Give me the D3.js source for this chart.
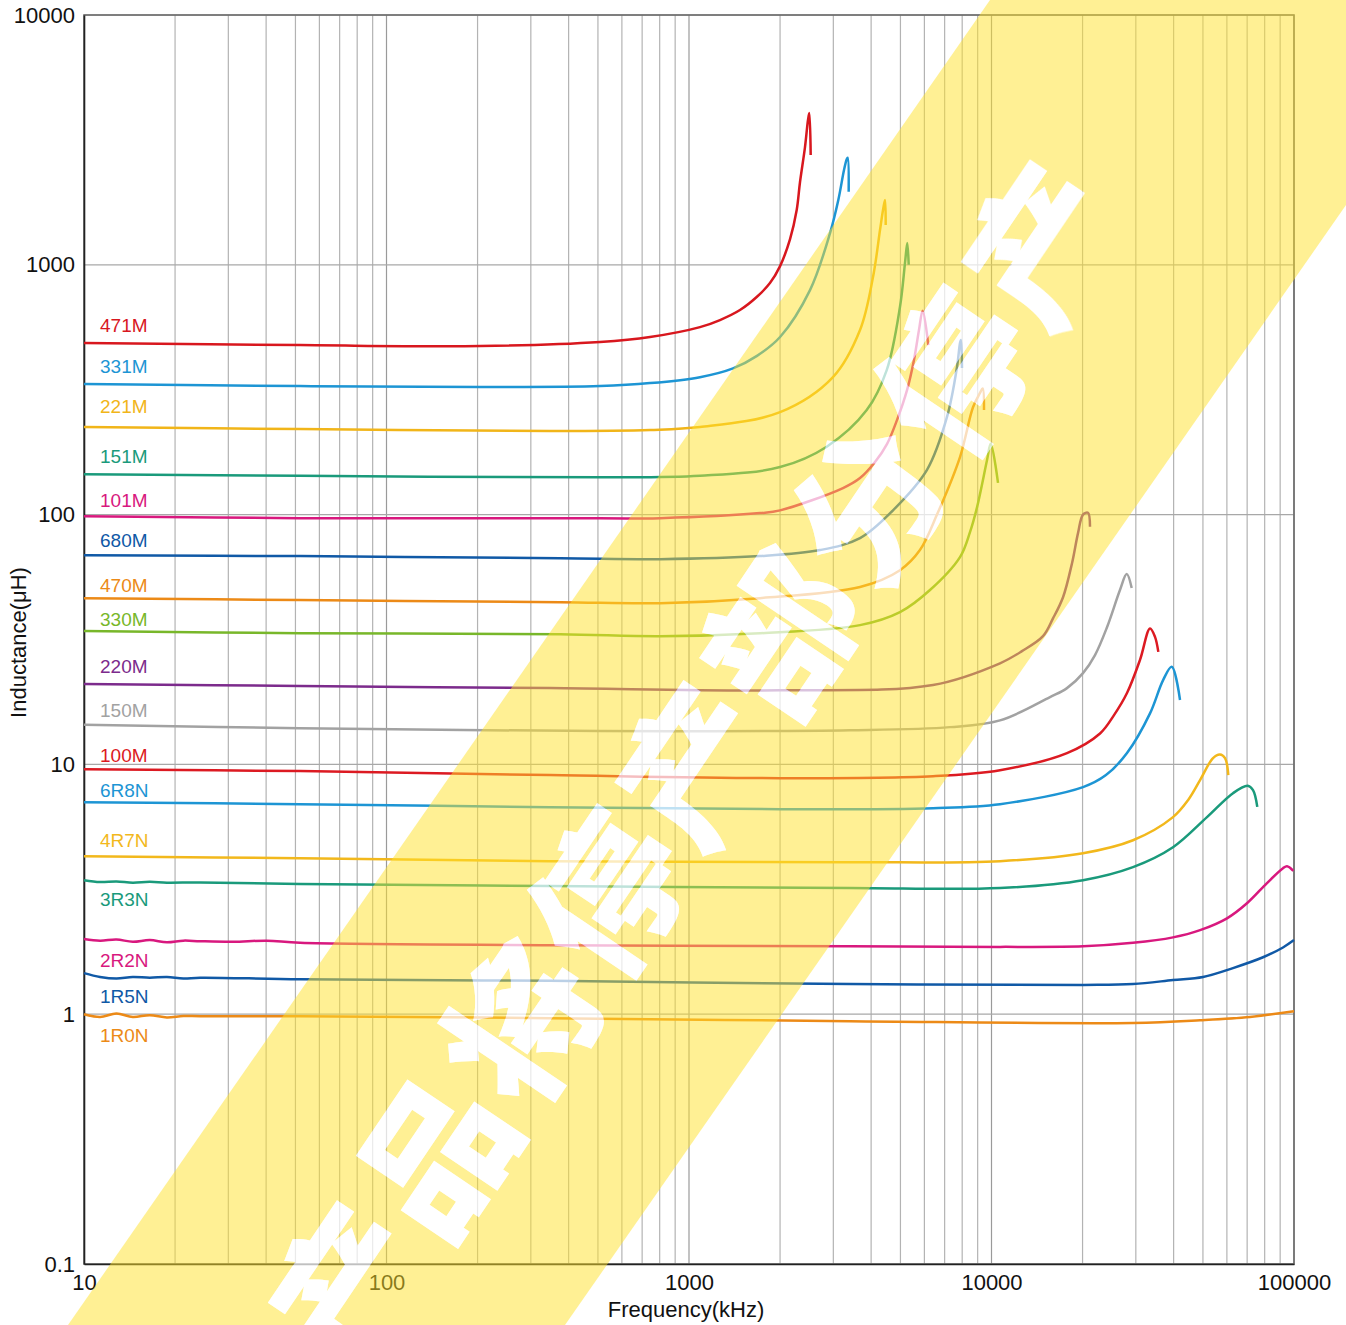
<!DOCTYPE html>
<html><head><meta charset="utf-8">
<script src="https://cdn.jsdelivr.net/npm/d3@7"></script>
<style>
html,body{margin:0;padding:0;background:#fff;}
svg{display:block;}
</style></head><body>
<svg id="chart" width="1346" height="1325"></svg>
<script>
// ---------------- DATA ----------------
const X_TICKS = [10, 100, 1000, 10000, 100000];
const X_TICK_LABELS = ["10", "100", "1000", "10000", "100000"];
const Y_TICKS = [0.1, 1, 10, 100, 1000, 10000];
const Y_TICK_LABELS = ["0.1", "1", "10", "100", "1000", "10000"];
const X_TITLE = "Frequency(kHz)";
const Y_TITLE = "Inductance(μH)";
const WATERMARK = "产品将停产部分停产";

const SERIES_NAMES = ["471M","331M","221M","151M","101M","680M","470M","330M","220M","150M","100M","6R8N","4R7N","3R3N","2R2N","1R5N","1R0N"];
const SERIES_COLORS = ["#d8171e","#1d95d4","#f1b519","#1a9a7b","#d8187e","#1059a6","#ec8a17","#78b72a","#7c2b8c","#a2a2a2","#dc1a22","#1d95d4","#f2b81c","#1a9a7b","#d8187e","#1059a6","#ec8a17"];

// frequency (kHz) / inductance (uH) per series
const F_471M = [10, 51.8, 204, 508, 743, 1087, 1266, 1474, 1674, 1852, 2000, 2158, 2270, 2328, 2418, 2474, 2499, 2525];
const L_471M = [486, 477, 473, 491, 514, 563, 601, 659, 743, 845, 988, 1268, 1657, 2145, 2961, 3798, 4052, 2750];
const F_331M = [10, 51.8, 204, 508, 743, 1087, 1398, 1678, 2000, 2512, 2926, 3116, 3254, 3322, 3347, 3372];
const L_331M = [333, 327, 324, 327, 336, 355, 385, 432, 514, 792, 1340, 1817, 2395, 2644, 2683, 1961];
const F_221M = [10, 51.8, 347, 743, 1087, 2000, 2992, 3676, 4058, 4280, 4379, 4446, 4469];
const L_221M = [224, 220, 216, 218, 224, 257, 355, 548, 893, 1378, 1657, 1817, 1443];
const F_151M = [10, 51.8, 508, 1087, 2000, 2853, 3868, 4504, 4983, 5176, 5268, 5324];
const L_151M = [145, 143, 141, 143, 155, 187, 262, 379, 679, 1016, 1222, 1000];
const F_101M = [10, 51.8, 375, 802, 1717, 2000, 3229, 3676, 4120, 4512, 4870, 5257, 5543, 5758, 5922, 6181];
const L_101M = [98.6, 96.8, 96.8, 96.8, 101.4, 104, 127.7, 140, 162.3, 191.6, 239, 315, 416, 548, 655, 477];
const F_680M = [10, 51.8, 375, 802, 1717, 2711, 3676, 4725, 6120, 7127, 7691, 7868, 7927, 7988];
const L_680M = [68.8, 68.2, 66.9, 66.3, 68.2, 72.1, 80.5, 104, 151, 246, 390, 486, 500, 386];
const F_470M = [10, 51.8, 375, 802, 1717, 3676, 4983, 5800, 6604, 7868, 8686, 9163, 9353, 9446];
const L_470M = [46.3, 45.5, 44.6, 44.2, 46.3, 51.3, 59.9, 72.1, 100, 170, 269, 307, 320, 262];
const F_330M = [10, 51.8, 375, 802, 1717, 3676, 4983, 6261, 7868, 8490, 8957, 9663, 9940, 10508];
const L_330M = [34.2, 33.5, 33.2, 32.6, 33.5, 36.1, 40.7, 49.9, 67.6, 85.1, 107, 165, 192, 134];
const F_220M = [10, 51.8, 347, 2000, 6406, 10669, 12610, 14799, 15970, 17237, 18458, 19320, 20068, 20845, 21165];
const L_220M = [20.96, 20.6, 20.2, 19.8, 20.8, 25.4, 28.4, 32.6, 38.4, 46.7, 63.9, 84.3, 100, 101.7, 89.4];
const F_150M = [10, 51.8, 508, 3406, 7293, 10669, 15607, 17763, 20068, 21990, 24090, 26590, 27985, 29071];
const L_150M = [14.4, 13.97, 13.6, 13.7, 14.1, 15.0, 18.6, 20.2, 23.2, 27.4, 35.4, 49.9, 57.8, 50.8];
const F_100M = [10, 51.8, 347, 2000, 6406, 10669, 17763, 22843, 25410, 28050, 30970, 33420, 34714, 35600];
const L_100M = [9.57, 9.40, 9.06, 8.81, 8.97, 9.48, 11.1, 13.3, 15.75, 19.3, 26.2, 35.0, 32.4, 28.2];
const F_6R8N = [10, 51.8, 347, 2000, 6406, 10669, 20068, 23900, 28050, 33420, 36890, 39420, 42000];
const L_6R8N = [7.06, 6.93, 6.74, 6.62, 6.68, 6.93, 8.11, 9.06, 11.1, 16.0, 21.7, 24.6, 18.1];
const F_4R7N = [10, 51.8, 347, 3406, 10669, 20068, 29360, 39810, 44630, 48920, 53990, 56930, 59150, 60650];
const L_4R7N = [4.29, 4.21, 4.10, 4.06, 4.10, 4.41, 4.97, 6.15, 7.19, 8.65, 10.6, 10.96, 10.6, 9.06];
const F_3R3N = [10, 11.3, 12.8, 14.5, 16.5, 18.8, 24.2, 51.8, 347, 3406, 10669, 20068, 29360, 39810, 51570, 62850, 70290, 73200, 75620];
const L_3R3N = [3.44, 3.38, 3.40, 3.36, 3.39, 3.36, 3.37, 3.32, 3.26, 3.20, 3.20, 3.44, 3.88, 4.66, 6.15, 7.67, 8.21, 7.89, 6.76];
const F_2R2N = [10, 11.3, 12.8, 14.5, 16.5, 18.8, 21.3, 24.2, 31.1, 40.2, 51.8, 347, 3406, 10669, 20068, 29360, 39810, 48920, 60050, 69910, 81420, 91960, 94810, 99470];
const L_2R2N = [2.00, 1.97, 1.99, 1.95, 1.98, 1.94, 1.97, 1.96, 1.95, 1.97, 1.93, 1.89, 1.87, 1.86, 1.87, 1.93, 2.03, 2.17, 2.42, 2.78, 3.35, 3.84, 3.91, 3.75];
const F_1R5N = [10, 11.3, 12.8, 14.5, 16.5, 18.8, 21.3, 24.2, 51.8, 347, 3406, 20068, 29360, 39810, 50040, 62850, 78990, 91960, 100000];
const L_1R5N = [1.46, 1.41, 1.39, 1.41, 1.40, 1.41, 1.39, 1.40, 1.38, 1.36, 1.32, 1.31, 1.32, 1.37, 1.41, 1.53, 1.69, 1.85, 1.98];
const F_1R0N = [10, 11.3, 12.8, 14.5, 16.5, 18.8, 21.3, 24.2, 51.8, 347, 3406, 29360, 48920, 71530, 100000];
const L_1R0N = [1.00, 0.975, 1.006, 0.975, 0.991, 0.970, 0.984, 0.982, 0.982, 0.964, 0.938, 0.923, 0.946, 0.975, 1.028];

const SERIES_F = [F_471M,F_331M,F_221M,F_151M,F_101M,F_680M,F_470M,F_330M,F_220M,F_150M,F_100M,F_6R8N,F_4R7N,F_3R3N,F_2R2N,F_1R5N,F_1R0N];
const SERIES_L = [L_471M,L_331M,L_221M,L_151M,L_101M,L_680M,L_470M,L_330M,L_220M,L_150M,L_100M,L_6R8N,L_4R7N,L_3R3N,L_2R2N,L_1R5N,L_1R0N];

// ---------------- LAYOUT ----------------
const W = 1346, H = 1325;
const M = {left: 84, right: 1294, top: 15, bottom: 1264};
// label baseline offset from series start (px): negative = above line
const LABEL_OFFSETS = [-11,-11,-14,-11,-9,-8,-6,-5,-11,-8,-7,-5,-9,26,28,30,28];
const FONT = "'Liberation Sans', Arial, Helvetica, sans-serif";

const x = d3.scaleLog().domain([10, 100000]).range([M.left, M.right]);
const y = d3.scaleLog().domain([0.1, 10000]).range([M.bottom, M.top]);

const svg = d3.select("#chart");

// grid
const grid = svg.append("g");
grid.selectAll("line.v").data(x.ticks()).join("line")
  .attr("x1", d => x(d)).attr("x2", d => x(d))
  .attr("y1", M.top).attr("y2", M.bottom)
  .attr("stroke", d => X_TICKS.includes(d) ? "#9a9a9a" : "#b3b3b3")
  .attr("stroke-width", 1.2);
grid.selectAll("line.h").data(Y_TICKS).join("line")
  .attr("x1", M.left).attr("x2", M.right)
  .attr("y1", d => y(d)).attr("y2", d => y(d))
  .attr("stroke", "#a8a8a8").attr("stroke-width", 1.2);

// frame
svg.append("rect").attr("x", M.left).attr("y", M.top)
  .attr("width", M.right - M.left).attr("height", M.bottom - M.top)
  .attr("fill", "none").attr("stroke", "#6a6a6a").attr("stroke-width", 1.6);

// axes
const xAxis = svg.append("g").attr("transform", `translate(0,${M.bottom})`)
  .call(d3.axisBottom(x).tickValues(X_TICKS).tickFormat((d, i) => X_TICK_LABELS[i]).tickSize(0).tickPadding(10));
const yAxis = svg.append("g").attr("transform", `translate(${M.left},0)`)
  .call(d3.axisLeft(y).tickValues(Y_TICKS).tickFormat((d, i) => Y_TICK_LABELS[i]).tickSize(0).tickPadding(9));
[xAxis, yAxis].forEach(g => {
  g.select(".domain").attr("stroke", "#222").attr("stroke-width", 1.6);
  g.selectAll("text").attr("font-family", FONT).attr("font-size", 22).attr("fill", "#111");
});

svg.append("text").attr("x", (M.left + M.right) / 2 - 3).attr("y", 1317)
  .attr("text-anchor", "middle").attr("font-family", FONT).attr("font-size", 22).attr("fill", "#111")
  .text(X_TITLE);
svg.append("text").attr("transform", `translate(26,${(M.top + M.bottom) / 2 + 3}) rotate(-90)`)
  .attr("text-anchor", "middle").attr("font-family", FONT).attr("font-size", 22).attr("fill", "#111")
  .text(Y_TITLE);

// series
const line = d3.line().x(d => x(d[0])).y(d => y(d[1])).curve(d3.curveCatmullRom.alpha(0.5));
const gLines = svg.append("g");
SERIES_NAMES.forEach((name, i) => {
  const pts = SERIES_F[i].map((f, j) => [f, SERIES_L[i][j]]);
  gLines.append("path").datum(pts)
    .attr("d", line)
    .attr("fill", "none").attr("stroke", SERIES_COLORS[i])
    .attr("stroke-width", 2.5).attr("stroke-linejoin", "round").attr("stroke-linecap", "butt");
  gLines.append("text")
    .attr("x", 100).attr("y", y(SERIES_L[i][0]) + LABEL_OFFSETS[i])
    .attr("font-family", FONT).attr("font-size", 19).attr("fill", SERIES_COLORS[i])
    .text(name);
});

// watermark band
const chars = Array.from(WATERMARK);
const ang = -56;
const cpos = k => [342 + 86.6 * k, 1280 - 130.1 * k];
const defs = svg.append("defs");
const mask = defs.append("mask").attr("id", "wmMask").attr("maskUnits", "userSpaceOnUse")
  .attr("x", 0).attr("y", 0).attr("width", W).attr("height", H);
mask.append("rect").attr("width", W).attr("height", H).attr("fill", "#fff");
const drawChars = (g, fill) => chars.forEach((c, k) => {
  const [cx, cy] = cpos(k);
  g.append("text").attr("transform", `translate(${cx},${cy}) rotate(${ang})`)
    .attr("text-anchor", "middle").attr("dominant-baseline", "central")
    .attr("font-family", "'Noto Sans CJK SC', 'Noto Sans CJK JP', sans-serif")
    .attr("font-weight", 900).attr("font-size", 150).attr("fill", fill).text(c);
});
drawChars(mask, "#000");
svg.append("polygon")
  .attr("points", "68,1325 990,0 1489,0 565,1325")
  .attr("fill", "rgb(255,225,42)").attr("fill-opacity", 0.5)
  .attr("mask", "url(#wmMask)");
const gWm = svg.append("g").attr("opacity", 0.72);
drawChars(gWm, "#fff");
</script>
</body></html>
